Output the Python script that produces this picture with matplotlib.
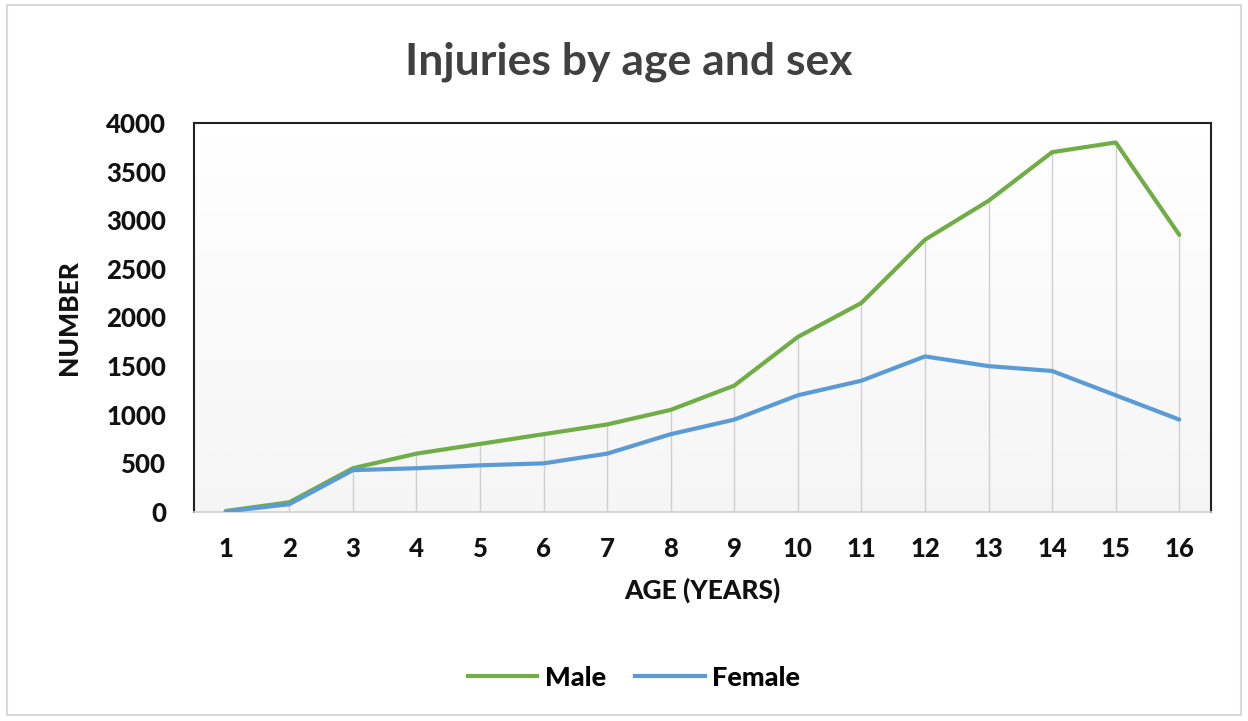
import numpy as np
import matplotlib.pyplot as plt
from matplotlib.lines import Line2D
from matplotlib.patches import Rectangle

# data
ages = list(range(1, 17))
male = [10, 100, 450, 600, 700, 800, 900, 1050, 1300, 1800, 2150, 2800, 3200, 3700, 3800, 2850]
female = [5, 80, 430, 450, 480, 500, 600, 800, 950, 1200, 1350, 1600, 1500, 1450, 1200, 950]

green = '#70AD47'
blue = '#5B9BD5'
txt = '#111111'

plt.rcParams['font.family'] = ['Lato', 'DejaVu Sans']

fig = plt.figure(figsize=(12.48, 7.21), dpi=100)
fig.patches.append(Rectangle((0.006, 0.008), 0.988, 0.985, transform=fig.transFigure,
                             fill=False, edgecolor='#d9d9d9', lw=1.5))

ax = fig.add_axes([0.1554, 0.2899, 0.8150, 0.5395])

# gradient fill of plot area (white top -> light grey bottom)
grad = np.linspace(0.0, 1.0, 256).reshape(-1, 1)
ax.imshow(grad, extent=[0, 1, 0, 1], transform=ax.transAxes, aspect='auto',
          cmap='Greys', vmin=0.0, vmax=12.0, origin='upper', zorder=0)

# drop lines
tops = [max(m, f) for m, f in zip(male, female)]
ax.vlines(ages, 0, tops, colors='#cfcfcf', lw=1, zorder=1)

ax.plot(ages, male, color=green, lw=3, solid_capstyle='round', zorder=3, label='Male')
ax.plot(ages, female, color=blue, lw=3, solid_capstyle='round', zorder=3, label='Female')

ax.set_xlim(0.5, 16.5)
ax.set_ylim(0, 4000)
ax.set_xticks(ages)
ax.set_yticks(range(0, 4001, 500))
ax.tick_params(length=0, labelsize=18.5, colors=txt)
ax.tick_params(axis='x', pad=18)
ax.tick_params(axis='y', pad=20)
for lab in ax.get_xticklabels() + ax.get_yticklabels():
    lab.set_fontweight('black')

for side in ['left', 'top', 'right']:
    ax.spines[side].set_color('#222222')
    ax.spines[side].set_linewidth(1.5)
ax.spines['bottom'].set_color('#d0d0d0')
ax.spines['bottom'].set_linewidth(1.2)

ax.set_xlabel('AGE (YEARS)', fontsize=19, fontweight='black', color=txt, labelpad=12)
ax.set_ylabel('NUMBER', fontsize=19, fontweight='black', color=txt, labelpad=18)

fig.text(0.504, 0.915, 'Injuries by age and sex', ha='center', va='center',
         fontsize=32, fontweight='bold', color='#404040')

handles = [Line2D([], [], color=green, lw=3), Line2D([], [], color=blue, lw=3)]
fig.legend(handles, ['Male', 'Female'], loc='center', bbox_to_anchor=(0.508, 0.06),
           ncol=2, frameon=False, handlelength=2.55, handletextpad=0.28,
           columnspacing=1.1, prop={'size': 19.5, 'weight': 'black'})

fig.savefig('out.png', dpi=100)
